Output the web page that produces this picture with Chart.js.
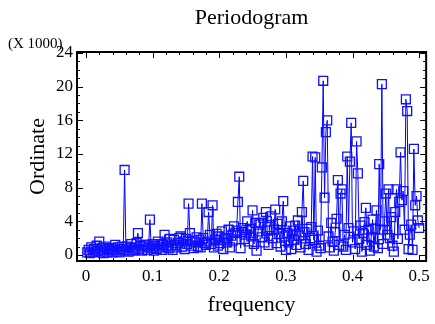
<!DOCTYPE html>
<html>
<head>
<meta charset="utf-8">
<script src="https://cdn.jsdelivr.net/npm/chart.js@4.4.1/dist/chart.umd.min.js"></script>
<style>
html,body{margin:0;padding:0;background:#fff;}
#wrap{width:435px;height:324px;}
</style>
</head>
<body>
<div id="wrap"><canvas id="c" width="435" height="324"></canvas></div>
<script>
// frequency values (cycles per observation)
const frequency = [
0.002,0.004,0.006,0.008,0.010,0.012,0.014,0.016,0.018,0.020,
0.022,0.024,0.026,0.028,0.030,0.032,0.034,0.036,0.038,0.040,
0.042,0.044,0.046,0.048,0.050,0.052,0.054,0.056,0.058,0.060,
0.062,0.064,0.066,0.068,0.070,0.072,0.074,0.076,0.078,0.080,
0.082,0.084,0.086,0.088,0.090,0.092,0.094,0.096,0.098,0.100,
0.102,0.104,0.106,0.108,0.110,0.112,0.114,0.116,0.118,0.120,
0.122,0.124,0.126,0.128,0.130,0.132,0.134,0.136,0.138,0.140,
0.142,0.144,0.146,0.148,0.150,0.152,0.154,0.156,0.158,0.160,
0.162,0.164,0.166,0.168,0.170,0.172,0.174,0.176,0.178,0.180,
0.182,0.184,0.186,0.188,0.190,0.192,0.194,0.196,0.198,0.200,
0.202,0.204,0.206,0.208,0.210,0.212,0.214,0.216,0.218,0.220,
0.222,0.224,0.226,0.228,0.230,0.232,0.234,0.236,0.238,0.240,
0.242,0.244,0.246,0.248,0.250,0.252,0.254,0.256,0.258,0.260,
0.262,0.264,0.266,0.268,0.270,0.272,0.274,0.276,0.278,0.280,
0.282,0.284,0.286,0.288,0.290,0.292,0.294,0.296,0.298,0.300,
0.302,0.304,0.306,0.308,0.310,0.312,0.314,0.316,0.318,0.320,
0.322,0.324,0.326,0.328,0.330,0.332,0.334,0.336,0.338,0.340,
0.342,0.344,0.346,0.348,0.350,0.352,0.354,0.356,0.358,0.360,
0.362,0.364,0.366,0.368,0.370,0.372,0.374,0.376,0.378,0.380,
0.382,0.384,0.386,0.388,0.390,0.392,0.394,0.396,0.398,0.400,
0.402,0.404,0.406,0.408,0.410,0.412,0.414,0.416,0.418,0.420,
0.422,0.424,0.426,0.428,0.430,0.432,0.434,0.436,0.438,0.440,
0.442,0.444,0.446,0.448,0.450,0.452,0.454,0.456,0.458,0.460,
0.462,0.464,0.466,0.468,0.470,0.472,0.474,0.476,0.478,0.480,
0.482,0.484,0.486,0.488,0.490,0.492,0.494,0.496,0.498,0.500
];
// periodogram ordinate, in thousands
const ordinate = [
0.3,0.6,0.2,0.9,0.4,0.7,0.3,1.1,0.5,1.6,
0.4,0.8,0.2,0.6,1.0,0.3,0.7,0.5,0.8,0.3,
0.6,1.2,0.4,0.9,0.3,0.7,1.0,0.5,10.1,0.6,
1.0,0.4,0.8,1.3,0.5,0.9,0.6,1.4,2.6,0.7,
1.1,0.5,0.9,1.2,1.2,0.6,1.0,4.2,0.8,1.3,
0.5,1.1,0.7,1.6,0.9,1.3,0.6,1.2,2.4,1.0,
1.5,0.8,1.9,1.1,0.6,1.8,1.2,0.9,1.4,2.0,
2.2,1.0,1.6,0.7,1.9,1.3,6.1,2.6,1.1,1.7,
0.8,1.5,2.1,1.0,1.8,0.9,6.1,2.0,1.4,1.2,
1.6,5.1,2.4,1.3,5.9,0.9,1.8,2.5,1.1,2.2,
1.4,2.8,0.7,2.0,2.0,1.5,3.0,0.9,2.3,1.7,
3.4,2.6,2.9,6.3,9.3,0.8,2.7,3.2,1.9,2.4,
4.0,1.6,3.1,2.2,5.3,1.3,3.8,0.5,2.8,3.6,
3.8,2.1,4.4,1.5,5.1,2.9,1.2,3.3,4.6,2.0,
3.0,5.4,1.4,3.7,2.5,1.0,4.0,6.4,2.2,0.6,
2.6,1.5,3.4,0.7,2.9,1.8,3.5,1.2,4.1,2.3,
0.9,5.1,8.8,2.7,1.3,3.1,0.6,2.0,3.3,11.7,
1.8,11.6,0.4,2.9,1.1,0.8,10.4,20.7,6.8,14.6,
16.0,2.2,0.9,3.8,1.6,0.5,2.7,4.3,8.9,1.2,
7.3,7.8,1.0,2.4,0.6,11.7,3.2,11.1,15.7,1.5,
2.8,0.7,13.5,9.7,1.9,3.5,0.4,2.6,3.9,5.6,
1.2,3.0,0.5,2.1,4.2,1.0,3.1,5.3,0.8,10.8,
3.0,20.3,1.3,4.0,7.3,2.4,7.8,2.0,4.5,1.1,
0.4,5.1,7.8,1.9,6.3,12.2,6.5,7.6,3.0,18.5,
17.1,0.7,2.4,3.6,0.6,12.6,5.9,7.0,4.1,3.2
];
const xTickValues = [0, 0.1, 0.2, 0.3, 0.4, 0.5];
const xTickLabels = ['0', '0.1', '0.2', '0.3', '0.4', '0.5'];
const yTickValues = [0, 4, 8, 12, 16, 20, 24];
const yTickLabels = ['0', '4', '8', '12', '16', '20', '24'];
const xMinorStep = 0.02;
const yMinorStep = 1;
const titleText = 'Periodogram';
const xTitle = 'frequency';
const yTitle = 'Ordinate';
const yUnitNote = '(X 1000)';

const SERIF = '"Liberation Serif", "Times New Roman", serif';

const points = frequency.map((f, i) => ({x: f, y: ordinate[i]}));

const framePlugin = {
  id: 'frameTicks',
  afterDatasetsDraw(chart) {
    const {ctx, chartArea: a, scales} = chart;
    const xs = scales.x, ys = scales.y;
    ctx.save();
    ctx.strokeStyle = '#000';
    ctx.lineWidth = 1;
    ctx.beginPath();
    const xMajor = new Set(xTickValues.map(v => v.toFixed(3)));
    for (let v = 0; v <= 0.5001; v += xMinorStep) {
      const px = Math.round(xs.getPixelForValue(v)) + 0.5;
      const major = xMajor.has(v.toFixed(3));
      const len = major ? 6 : 3;
      ctx.moveTo(px, a.bottom); ctx.lineTo(px, a.bottom - len);
      ctx.moveTo(px, a.top); ctx.lineTo(px, a.top + len);
    }
    const yMajor = new Set(yTickValues.map(v => String(v)));
    for (let v = 0; v <= 24; v += yMinorStep) {
      const py = Math.round(ys.getPixelForValue(v)) + 0.5;
      const major = yMajor.has(String(v));
      const len = major ? 6 : 3;
      ctx.moveTo(a.left, py); ctx.lineTo(a.left + len, py);
      ctx.moveTo(a.right, py); ctx.lineTo(a.right - len, py);
    }
    ctx.stroke();
    ctx.lineWidth = 2;
    ctx.strokeRect(a.left, a.top, a.right - a.left, a.bottom - a.top);
    ctx.fillStyle = '#000';
    ctx.font = '15px ' + SERIF;
    ctx.textAlign = 'left';
    ctx.textBaseline = 'middle';
    ctx.fillText(yUnitNote, 8, 44);
    ctx.restore();
  }
};

new Chart(document.getElementById('c'), {
  type: 'line',
  data: {
    datasets: [{
      data: points,
      borderColor: '#0000ff',
      borderWidth: 1,
      pointStyle: 'rect',
      pointRadius: 6.3,
      pointBorderWidth: 1.3,
      pointBorderColor: '#1010ff',
      pointBackgroundColor: 'rgba(0,0,0,0)',
      tension: 0,
      clip: false
    }]
  },
  options: {
    responsive: false,
    animation: false,
    devicePixelRatio: 1,
    layout: {padding: {left: 0, right: 5, top: 0, bottom: 0}},
    plugins: {
      legend: {display: false},
      tooltip: {enabled: false},
      title: {
        display: true,
        text: titleText,
        fullSize: false,
        color: '#000',
        font: {family: SERIF, size: 22, weight: 'normal'},
        padding: {top: 5, bottom: 20.6}
      }
    },
    scales: {
      x: {
        type: 'linear',
        min: -0.0134,
        max: 0.5104,
        afterFit: s => { s.height = 63; },
        afterBuildTicks: s => { s.ticks = xTickValues.map(v => ({value: v})); },
        grid: {display: false, drawTicks: false, tickLength: 0},
        border: {display: false},
        ticks: {
          color: '#000',
          font: {family: SERIF, size: 17},
          padding: 5,
          maxRotation: 0,
          autoSkip: false,
          callback: (v) => { const i = xTickValues.indexOf(v); return i >= 0 ? xTickLabels[i] : ''; }
        },
        title: {
          display: true,
          text: xTitle,
          color: '#000',
          font: {family: SERIF, size: 22},
          padding: {top: 0, bottom: 6}
        }
      },
      y: {
        type: 'linear',
        min: -0.72,
        max: 24.12,
        afterFit: s => { s.width = 77; },
        afterBuildTicks: s => { s.ticks = yTickValues.map(v => ({value: v})); },
        grid: {display: false, drawTicks: false, tickLength: 0},
        border: {display: false},
        ticks: {
          color: '#000',
          font: {family: SERIF, size: 17},
          padding: 4,
          autoSkip: false,
          callback: (v) => { const i = yTickValues.indexOf(v); return i >= 0 ? yTickLabels[i] : ''; }
        },
        title: {
          display: true,
          text: yTitle,
          color: '#000',
          font: {family: SERIF, size: 22},
          padding: {top: 25, bottom: 0}
        }
      }
    }
  },
  plugins: [framePlugin]
});
</script>
</body>
</html>
